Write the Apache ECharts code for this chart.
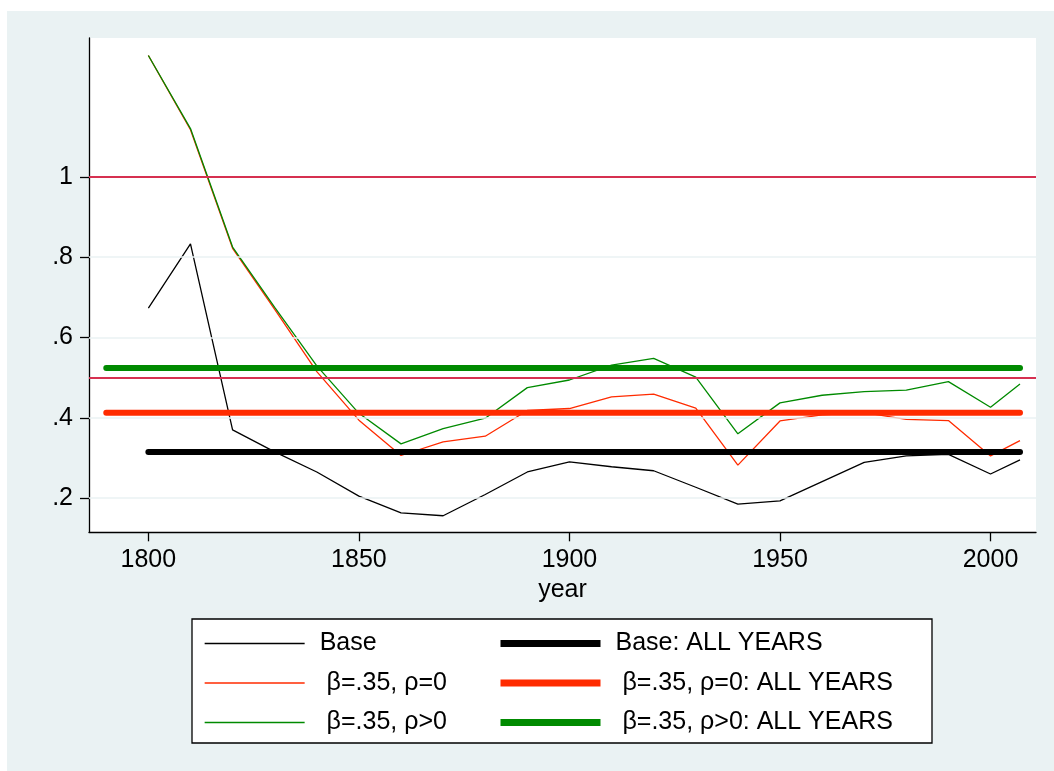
<!DOCTYPE html>
<html>
<head>
<meta charset="utf-8">
<script src="https://cdn.jsdelivr.net/npm/echarts@6/dist/echarts.min.js"></script>
<style>
  html, body { margin: 0; padding: 0; background: #ffffff; }
  #wrap { position: absolute; left: 0; top: 0; width: 1054px; height: 771px; background: #ffffff; }
  #chart { position: absolute; left: 7px; top: 11px; width: 1047px; height: 760px; }
</style>
</head>
<body>
<div id="wrap"><div id="chart"></div></div>
<script>
// ---- data ----
const years = [1800, 1810, 1820, 1830, 1840, 1850, 1860, 1870, 1880, 1890, 1900,
               1910, 1920, 1930, 1940, 1950, 1960, 1970, 1980, 1990, 2000, 2007];
const baseValues = [0.673, 0.833, 0.370, 0.315, 0.265, 0.205, 0.163, 0.156, 0.209, 0.265, 0.290,
                    0.278, 0.268, 0.227, 0.185, 0.193, 0.241, 0.289, 0.305, 0.309, 0.260, 0.295];
const rho0Values = [1.302, 1.117, 0.822, 0.670, 0.515, 0.394, 0.306, 0.340, 0.354, 0.418, 0.423,
                    0.452, 0.459, 0.424, 0.282, 0.392, 0.407, 0.413, 0.396, 0.393, 0.305, 0.343];
const rhoPosValues = [1.302, 1.120, 0.825, 0.675, 0.529, 0.411, 0.335, 0.373, 0.399, 0.475, 0.494,
                      0.531, 0.548, 0.501, 0.360, 0.437, 0.456, 0.465, 0.469, 0.490, 0.426, 0.484];
// "ALL YEARS" averages: [startYear, endYear, value]
const baseAll = [1800, 2007, 0.3146];
const rho0All = [1790, 2007, 0.4126];
const rhoPosAll = [1790, 2007, 0.524];
// reference lines and ticks
const refLines = [1, 0.5];
const yTicks = [0.2, 0.4, 0.6, 0.8, 1];
const xTicks = [1800, 1850, 1900, 1950, 2000];
const seriesNames = ['Base', ' \u03b2=.35, \u03c1=0', ' \u03b2=.35, \u03c1>0',
                     'Base: ALL YEARS', ' \u03b2=.35, \u03c1=0: ALL YEARS', ' \u03b2=.35, \u03c1>0: ALL YEARS'];
const xAxisTitle = 'year';

// ---- build ----
const FONT = '"Liberation Sans", Arial, Helvetica, sans-serif';
const FS = 25;
const BG = '#eaf2f3';
const C_BLACK = '#000000', C_RED = '#ff2b00', C_GREEN = '#008a00', C_REF = '#d63050';
const zip = (xs, ys) => xs.map((x, i) => [x, ys[i]]);
const seg = a => [[a[0], a[2]], [a[1], a[2]]];

const chart = echarts.init(document.getElementById('chart'), null, { renderer: 'canvas' });

const thin = (name, vals, color) => ({
  type: 'line', name, data: zip(years, vals), symbol: 'none', z: 3,
  lineStyle: { color, width: 1.3 }, itemStyle: { color, opacity: 0 }, silent: true
});
const thick = (name, a, color) => ({
  type: 'line', name, data: seg(a), symbol: 'none', z: 4,
  lineStyle: { color, width: 6, cap: 'round' }, itemStyle: { color, opacity: 0 }, silent: true
});
const legendItem = (name, w) => ({
  name, lineStyle: { width: w, cap: 'butt' }, itemStyle: { opacity: 0, borderWidth: 0 }
});
const legendCommon = {
  orient: 'vertical', top: 615, itemWidth: 100, itemHeight: 24, itemGap: 14.5,
  selectedMode: false, z: 10,
  textStyle: { fontSize: FS, color: '#000', fontFamily: FONT, padding: [0, 0, 0, 10] }
};

const option = {
  animation: false,
  backgroundColor: BG,
  textStyle: { fontFamily: FONT },
  grid: {
    left: 82, top: 27, width: 947, height: 494.3,
    show: true, backgroundColor: '#ffffff', borderWidth: 0,
    outerBoundsMode: 'none'
  },
  xAxis: {
    type: 'value', min: 1785.9, max: 2010.8,
    name: xAxisTitle, nameLocation: 'middle', nameGap: 42,
    nameTextStyle: { fontSize: FS, color: '#000', fontFamily: FONT },
    axisLine: { show: true, onZero: false, lineStyle: { color: '#000', width: 1.3 } },
    axisTick: { show: true, length: 9, customValues: xTicks, lineStyle: { color: '#000', width: 1.3 } },
    axisLabel: {
      customValues: xTicks, fontSize: FS, color: '#000', margin: 15, fontFamily: FONT,
      formatter: v => String(Math.round(v))
    },
    splitLine: { show: false }
  },
  yAxis: {
    type: 'value', min: 0.1148, max: 1.3455,
    axisLine: { show: true, onZero: false, lineStyle: { color: '#000', width: 1.3 } },
    axisTick: { show: true, length: 9, customValues: yTicks, lineStyle: { color: '#000', width: 1.3 } },
    axisLabel: {
      customValues: yTicks, fontSize: FS, color: '#000', margin: 16, fontFamily: FONT,
      formatter: v => (Math.abs(v - 1) < 1e-9 ? '1' : String(+v.toFixed(2)).replace(/^0/, ''))
    },
    splitLine: { show: false }
  },
  legend: [
    Object.assign({}, legendCommon, {
      left: 192,
      data: [legendItem(seriesNames[0], 1.3), legendItem(seriesNames[1], 1.3), legendItem(seriesNames[2], 1.3)]
    }),
    Object.assign({}, legendCommon, {
      left: 485,
      data: [legendItem(seriesNames[3], 7), legendItem(seriesNames[4], 7), legendItem(seriesNames[5], 7)]
    })
  ],
  graphic: [
    {
      type: 'rect', z: 1,
      shape: { x: 185, y: 608, width: 740, height: 124 },
      style: { fill: '#ffffff', stroke: '#000000', lineWidth: 1.3 }
    }
  ],
  series: [
    {
      type: 'line', name: '__grid', data: [], silent: true, z: 1,
      markLine: {
        silent: true, symbol: 'none', label: { show: false }, animation: false,
        lineStyle: { color: BG, width: 1.5, type: 'solid' },
        data: yTicks.filter(v => refLines.indexOf(v) < 0).map(v => ({ yAxis: v }))
      }
    },
    {
      type: 'line', name: '__ref', data: [], silent: true, z: 2,
      markLine: {
        silent: true, symbol: 'none', label: { show: false }, animation: false,
        lineStyle: { color: C_REF, width: 2, type: 'solid' },
        data: refLines.map(v => ({ yAxis: v }))
      }
    },
    thin(seriesNames[0], baseValues, C_BLACK),
    thin(seriesNames[1], rho0Values, C_RED),
    thin(seriesNames[2], rhoPosValues, C_GREEN),
    thick(seriesNames[3], baseAll, C_BLACK),
    thick(seriesNames[4], rho0All, C_RED),
    thick(seriesNames[5], rhoPosAll, C_GREEN)
  ]
};
chart.setOption(option);
</script>
</body>
</html>
